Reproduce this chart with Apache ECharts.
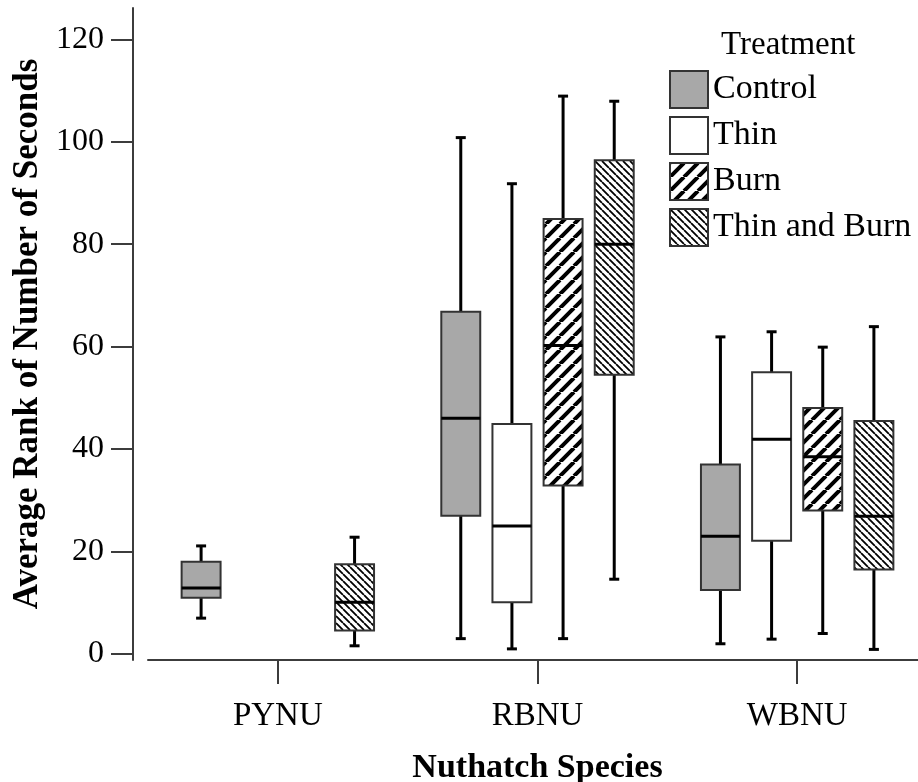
<!DOCTYPE html>
<html>
<head>
<meta charset="utf-8">
<script src="https://cdn.jsdelivr.net/npm/echarts@6/dist/echarts.min.js"></script>
<style>
html,body{margin:0;padding:0;background:#fff;}
#chart{width:918px;height:782px;}
</style>
</head>
<body>
<div id="chart"></div>
<script>
// ---- data ----
var categories = ['PYNU', 'RBNU', 'WBNU'];
var treatments = ['Control', 'Thin', 'Burn', 'Thin and Burn'];
var yTicks = [0, 20, 40, 60, 80, 100, 120];
// each row: [categoryIndex, min, Q1, median, Q3, max]
var controlData = [
  [0, 7.0, 11.0, 12.9, 18.0, 21.1],
  [1, 3.0, 27.0, 46.0, 66.8, 100.8],
  [2, 2.0, 12.5, 23.0, 37.0, 61.9]
];
var thinData = [
  [1, 1.0, 10.1, 25.0, 44.9, 91.8],
  [2, 2.9, 22.1, 41.9, 55.0, 62.9]
];
var burnData = [
  [1, 3.0, 32.9, 60.2, 84.9, 108.9],
  [2, 4.0, 28.0, 38.5, 48.0, 59.9]
];
var thinBurnData = [
  [0, 1.6, 4.6, 10.1, 17.5, 22.8],
  [1, 14.6, 54.5, 80.0, 96.4, 107.9],
  [2, 0.9, 16.5, 26.9, 45.5, 63.9]
];

function hatch(size, lw, dir) {
  var c = document.createElement('canvas');
  c.width = size; c.height = size;
  var g = c.getContext('2d');
  g.fillStyle = '#ffffff';
  g.fillRect(0, 0, size, size);
  g.strokeStyle = '#000000';
  g.lineWidth = lw;
  g.beginPath();
  for (var k = -1; k <= 1; k++) {
    var x0 = k * size;
    if (dir > 0) { g.moveTo(x0, size); g.lineTo(x0 + size, 0); }
    else { g.moveTo(x0, 0); g.lineTo(x0 + size, size); }
  }
  g.stroke();
  return { image: c, repeat: 'repeat' };
}

var fills = ['#a8a8a8', '#ffffff', hatch(14, 4, 1), hatch(7, 1.8, -1)];
var datasets = [controlData, thinData, burnData, thinBurnData];
var FONT = 'Liberation Serif';

function makeRender(idx) {
  return function (params, api) {
    var cat = api.value(0);
    var band = api.size([1, 0])[0];
    var x = api.coord([cat, 0])[0] + (idx - 1.5) * 0.197 * band;
    var w = band * 0.15;
    var yMin = api.coord([cat, api.value(1)])[1];
    var yQ1 = api.coord([cat, api.value(2)])[1];
    var yMed = api.coord([cat, api.value(3)])[1];
    var yQ3 = api.coord([cat, api.value(4)])[1];
    var yMax = api.coord([cat, api.value(5)])[1];
    var wl = { stroke: '#000', lineWidth: 3 };
    return {
      type: 'group',
      children: [
        { type: 'line', shape: { x1: x, y1: yMax, x2: x, y2: yQ3 }, style: wl },
        { type: 'line', shape: { x1: x, y1: yQ1, x2: x, y2: yMin }, style: wl },
        { type: 'line', shape: { x1: x - 5, y1: yMax, x2: x + 5, y2: yMax }, style: wl },
        { type: 'line', shape: { x1: x - 5, y1: yMin, x2: x + 5, y2: yMin }, style: wl },
        { type: 'rect', shape: { x: x - w / 2, y: yQ3, width: w, height: yQ1 - yQ3 },
          style: { fill: api.visual('color'), stroke: '#333', lineWidth: 2 } },
        { type: 'line', shape: { x1: x - w / 2, y1: yMed, x2: x + w / 2, y2: yMed },
          style: { stroke: '#000', lineWidth: 3 } }
      ]
    };
  };
}

var series = treatments.map(function (name, i) {
  return {
    type: 'custom',
    name: name,
    renderItem: makeRender(i),
    data: datasets[i],
    encode: { x: 0, y: [1, 2, 3, 4, 5] },
    itemStyle: { color: fills[i], borderColor: '#333', borderWidth: 2 },
    clip: false,
    animation: false
  };
});

var chart = echarts.init(document.getElementById('chart'), null, { renderer: 'canvas' });
chart.setOption({
  animation: false,
  backgroundColor: '#ffffff',
  textStyle: { fontFamily: FONT, color: '#000' },
  title: {
    text: 'Treatment', left: 721, top: 29, padding: 0,
    textStyle: { fontFamily: FONT, fontSize: 33, fontWeight: 'normal', color: '#000' }
  },
  legend: {
    orient: 'vertical', left: 669, top: 70, padding: 0,
    itemWidth: 38, itemHeight: 37, itemGap: 7,
    data: treatments.map(function (t) { return { name: t, icon: 'rect' }; }),
    textStyle: { fontFamily: FONT, fontSize: 34, color: '#000' },
    selectedMode: false
  },
  grid: { left: 148, top: 8, width: 779, bottom: 122, containLabel: false, outerBoundsMode: 'none' },
  xAxis: {
    type: 'category',
    data: categories,
    name: 'Nuthatch Species',
    nameLocation: 'middle',
    nameGap: 91,
    nameTextStyle: { fontFamily: FONT, fontSize: 34, fontWeight: 'bold', color: '#000' },
    axisLine: { show: true, onZero: false, lineStyle: { color: '#3c3c3c', width: 2 } },
    axisTick: { show: true, alignWithLabel: true, length: 24, lineStyle: { color: '#3c3c3c', width: 2 } },
    axisLabel: { fontFamily: FONT, fontSize: 33, color: '#000', margin: 40 },
    splitLine: { show: false }
  },
  yAxis: {
    type: 'value',
    min: -1.17, max: 126.1,
    offset: 15,
    name: 'Average Rank of Number of Seconds',
    nameLocation: 'middle',
    nameGap: 88,
    nameTextStyle: { fontFamily: FONT, fontSize: 35, fontWeight: 'bold', color: '#000' },
    axisLine: { show: true, lineStyle: { color: '#3c3c3c', width: 2 } },
    axisTick: { show: true, length: 22, customValues: yTicks, lineStyle: { color: '#3c3c3c', width: 2 } },
    axisLabel: { fontFamily: FONT, fontSize: 32, color: '#000', margin: 29, customValues: yTicks },
    splitLine: { show: false }
  },
  series: series
});
</script>
</body>
</html>
